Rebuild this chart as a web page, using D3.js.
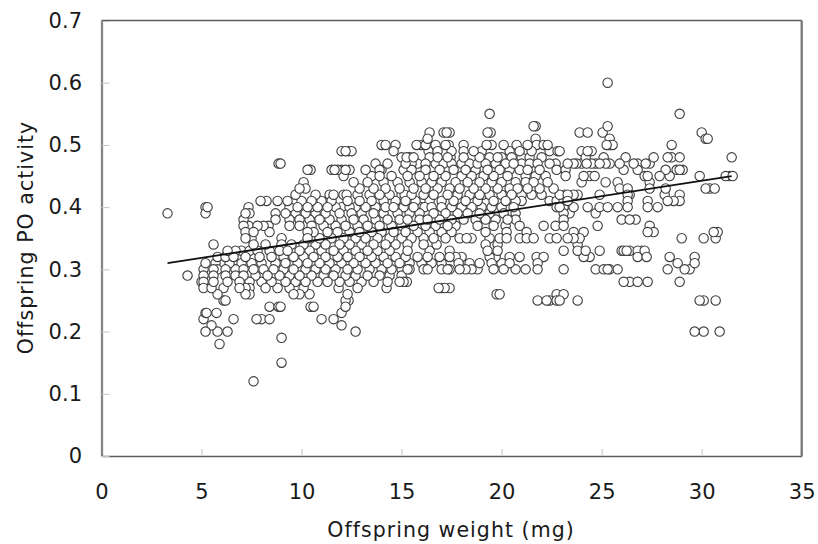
<!DOCTYPE html>
<html>
<head>
<meta charset="utf-8">
<script src="https://d3js.org/d3.v7.min.js"></script>
<style>
  body { margin: 0; background: #fff; }
  svg { display: block; font-family: "DejaVu Sans", sans-serif; }
</style>
</head>
<body>
<div id="chart"></div>
<script>
// Activity readings are quantised, so weights are listed row by row
var activityLevels = [0.60, 0.55, 0.53, 0.52, 0.51, 0.50, 0.49, 0.48, 0.47, 0.46, 0.45, 0.44, 0.43, 0.42, 0.41, 0.40, 0.39, 0.38, 0.37, 0.36, 0.35, 0.34, 0.33, 0.32, 0.31, 0.30, 0.29, 0.28, 0.27, 0.26, 0.25, 0.24, 0.23, 0.22, 0.21, 0.20, 0.19, 0.18, 0.15, 0.12];

var weightsByLevel = [
  [25.3],
  [19.4, 28.9],
  [21.6, 21.7, 25.3],
  [16.4, 17.1, 17.25, 17.4, 19.3, 19.45, 23.9, 24.3, 25.05, 30.0],
  [16.3, 21.7, 25.4, 30.2, 30.3],
  [14.0, 14.2, 14.7, 15.75, 16.0, 16.2, 16.7, 17.2, 17.35, 18.1, 19.25, 19.5, 20.1, 20.75, 21.3, 21.75, 22.1, 22.3, 25.25, 25.35, 25.45, 25.55, 28.5],
  [12.0, 12.2, 12.35, 12.5, 14.6, 16.35, 16.8, 17.5, 18.1, 18.6, 19.0, 20.4, 20.9, 21.5, 22.4, 22.8, 22.9, 24.0, 24.3, 24.5],
  [15.0, 15.25, 15.4, 15.6, 16.4, 16.8, 17.3, 17.45, 18.1, 18.9, 19.4, 19.8, 20.0, 20.5, 21.0, 21.4, 22.0, 24.2, 25.1, 26.2, 27.6, 28.3, 28.5, 28.9, 31.5],
  [8.85, 8.95, 13.7, 14.3, 15.2, 15.5, 15.8, 16.2, 16.7, 17.1, 17.5, 18.0, 18.4, 18.8, 19.2, 19.7, 20.2, 20.6, 21.0, 21.4, 21.8, 22.4, 22.7, 23.3, 23.6, 23.75, 24.0, 24.25, 24.5, 24.7, 24.9, 25.2, 25.4, 25.9, 26.6, 26.8, 27.2, 27.4],
  [10.3, 10.4, 10.45, 11.5, 11.65, 11.8, 12.0, 12.2, 12.4, 13.2, 13.9, 14.0, 15.1, 15.5, 16.2, 16.9, 17.6, 18.2, 18.7, 19.3, 19.9, 20.4, 20.9, 21.3, 21.9, 22.75, 23.2, 26.1, 26.8, 28.2, 28.75, 28.9, 29.05],
  [12.1, 13.5, 13.9, 14.5, 15.3, 15.9, 16.6, 17.2, 18.0, 18.5, 19.1, 19.6, 20.3, 21.2, 21.7, 22.2, 23.2, 24.1, 24.4, 24.65, 27.15, 27.3, 27.9, 28.4, 29.9, 31.2, 31.4, 31.55],
  [10.1, 12.6, 13.3, 14.1, 14.8, 15.4, 16.0, 16.5, 17.0, 17.7, 18.3, 18.9, 19.5, 20.0, 20.7, 21.2, 21.6, 22.3, 24.0, 25.2, 25.8, 27.4],
  [9.9, 10.2, 12.9, 13.6, 14.2, 14.9, 15.6, 16.2, 16.8, 17.4, 17.9, 18.6, 19.2, 19.8, 20.4, 20.8, 21.3, 21.9, 22.6, 25.9, 26.3, 27.4, 28.2, 30.2, 30.4, 30.65],
  [9.7, 10.7, 11.4, 11.6, 12.1, 12.25, 12.8, 13.4, 13.9, 14.4, 15.0, 15.15, 15.5, 16.1, 16.6, 17.3, 17.8, 18.4, 18.9, 19.05, 19.4, 20.0, 20.5, 21.0, 21.5, 22.0, 22.9, 23.15, 23.3, 23.6, 23.8, 24.9, 26.3, 26.4, 28.15, 28.9],
  [7.95, 8.25, 8.8, 9.3, 10.0, 10.5, 11.0, 11.5, 12.3, 12.9, 13.5, 14.1, 14.7, 15.2, 15.7, 16.4, 17.0, 17.6, 18.2, 18.8, 19.6, 20.2, 20.7, 21.0, 22.4, 22.75, 23.1, 23.3, 26.3, 27.3, 28.3, 28.6, 28.9],
  [5.2, 5.3, 7.35, 9.4, 9.8, 10.3, 10.45, 10.8, 11.3, 11.7, 12.0, 12.4, 12.7, 13.2, 13.7, 14.2, 14.6, 15.1, 15.6, 16.0, 16.15, 16.5, 17.0, 17.5, 18.0, 18.5, 19.0, 19.5, 20.0, 20.6, 22.75, 22.9, 23.1, 23.6, 24.3, 24.9, 25.3, 25.8, 26.3, 27.3, 27.8],
  [3.3, 5.2, 7.2, 7.4, 8.7, 9.2, 9.7, 10.2, 10.7, 11.2, 11.9, 12.5, 13.0, 13.6, 14.1, 14.8, 15.4, 15.9, 16.6, 17.2, 17.8, 18.3, 18.9, 19.4, 20.1, 20.7, 23.1, 23.4, 24.7],
  [7.1, 8.7, 9.4, 9.9, 10.4, 10.9, 11.4, 12.0, 12.6, 13.1, 13.7, 14.3, 14.9, 15.3, 15.9, 16.3, 16.9, 17.5, 18.1, 18.7, 19.2, 19.7, 20.3, 20.7, 23.1, 26.0, 26.4, 26.7],
  [7.1, 7.35, 7.8, 8.1, 8.35, 9.4, 9.9, 10.5, 11.1, 11.7, 12.2, 12.8, 13.3, 13.9, 14.5, 15.0, 15.6, 16.2, 16.7, 17.3, 17.7, 18.8, 19.6, 20.2, 20.9, 22.1, 22.7, 23.1, 24.8, 27.4],
  [7.2, 7.6, 8.4, 10.3, 10.6, 11.3, 11.8, 12.4, 12.9, 13.5, 14.0, 14.6, 15.2, 15.8, 16.4, 17.0, 17.5, 19.2, 20.25, 21.25, 23.6, 24.1, 27.3, 27.6, 30.6, 30.8],
  [7.2, 7.5, 9.0, 10.3, 10.45, 10.9, 11.5, 12.1, 12.7, 13.2, 13.8, 14.4, 15.0, 15.5, 16.1, 16.6, 17.2, 17.9, 18.25, 18.5, 19.4, 19.9, 20.25, 20.9, 21.25, 21.6, 22.4, 22.75, 23.3, 23.6, 23.9, 29.0, 30.1, 30.7],
  [5.6, 7.6, 8.2, 9.0, 9.5, 10.1, 10.7, 11.2, 11.9, 12.4, 13.0, 13.6, 14.2, 14.7, 15.3, 16.1, 16.75, 19.2, 19.8, 23.8],
  [6.3, 6.7, 7.0, 7.4, 7.8, 8.4, 8.9, 9.3, 9.9, 10.4, 11.0, 11.6, 12.1, 12.7, 13.3, 13.8, 14.4, 15.3, 16.4, 17.4, 19.3, 19.8, 23.1, 23.8, 24.2, 24.9, 26.0, 26.1, 26.25, 26.4, 26.8, 27.0, 27.15],
  [5.8, 6.2, 6.6, 7.2, 7.9, 8.5, 9.1, 9.6, 10.1, 10.6, 11.2, 11.8, 12.3, 12.9, 13.5, 14.1, 14.7, 15.2, 15.8, 16.3, 16.9, 17.4, 17.7, 18.0, 19.4, 19.7, 20.4, 20.9, 21.75, 22.1, 24.1, 24.4, 26.8, 27.25, 28.4, 29.65],
  [5.2, 5.7, 6.4, 7.0, 7.5, 8.0, 8.7, 9.2, 9.8, 10.3, 10.9, 11.4, 12.0, 12.6, 13.2, 13.7, 14.3, 14.9, 15.4, 16.0, 16.5, 17.0, 17.85, 18.4, 18.9, 19.5, 20.0, 20.4, 21.8, 28.8, 29.65],
  [5.1, 5.6, 5.8, 6.2, 6.7, 7.1, 7.6, 8.1, 8.6, 9.1, 9.6, 10.2, 10.7, 11.2, 11.7, 12.3, 12.8, 13.4, 14.0, 14.5, 15.0, 15.3, 15.4, 16.1, 16.3, 17.0, 17.3, 17.4, 17.9, 18.2, 18.5, 18.8, 19.6, 20.1, 20.7, 21.2, 21.8, 23.1, 24.7, 25.1, 25.3, 25.4, 25.8, 28.3, 29.15, 29.4],
  [4.3, 5.1, 5.6, 6.2, 6.7, 7.1, 7.7, 8.3, 8.9, 9.4, 9.9, 10.5, 11.1, 11.6, 12.2, 12.7, 13.3, 13.9, 14.4, 15.0],
  [5.0, 5.1, 5.6, 6.3, 6.9, 7.4, 8.0, 8.5, 9.2, 9.7, 10.2, 10.8, 11.3, 11.9, 12.4, 13.0, 13.6, 14.3, 14.9, 15.1, 15.26, 26.1, 26.4, 26.8, 27.3, 28.9],
  [5.1, 5.5, 6.1, 6.9, 7.2, 7.4, 8.2, 8.8, 9.4, 10.1, 11.85, 12.8, 14.25, 16.85, 17.0, 17.15, 17.4],
  [5.8, 7.2, 7.4, 9.6, 9.9, 10.4, 12.3, 19.75, 19.9, 22.75, 23.1],
  [6.1, 6.2, 12.2, 12.35, 21.8, 22.25, 22.4, 22.75, 22.9, 23.8, 29.9, 30.1, 30.7],
  [8.4, 8.85, 8.95, 10.45, 10.6, 12.2],
  [5.2, 5.25, 5.75, 12.0],
  [5.1, 6.6, 7.75, 8.0, 8.4, 11.0, 11.6],
  [5.5, 12.0],
  [5.2, 5.8, 6.3, 12.7, 29.65, 30.1, 30.9],
  [9.0],
  [5.9],
  [9.0],
  [7.6]
];

var xTickValues = [0, 5, 10, 15, 20, 25, 30, 35];
var yTickValues = [0, 0.1, 0.2, 0.3, 0.4, 0.5, 0.6, 0.7];

// Fitted line end points
var trendWeights = [3.3, 31.5];
var trendActivity = [0.31, 0.45];

var width = 818, height = 544;
var margin = { top: 20.5, right: 16.3, bottom: 88, left: 101.5 };
var innerWidth = width - margin.left - margin.right;
var innerHeight = height - margin.top - margin.bottom;

var x = d3.scaleLinear().domain([0, 35]).range([0, innerWidth]);
var y = d3.scaleLinear().domain([0, 0.7]).range([innerHeight, 0]);

var svg = d3.select("#chart").append("svg")
    .attr("width", width)
    .attr("height", height);

var g = svg.append("g")
    .attr("transform", `translate(${margin.left}, ${margin.top})`);

var xAxis = g.append("g")
    .attr("transform", `translate(0, ${innerHeight})`)
    .call(d3.axisBottom(x).tickValues(xTickValues).tickSizeInner(-7).tickSizeOuter(0).tickPadding(28.4).tickFormat(d3.format("d")));

var yAxis = g.append("g")
    .call(d3.axisLeft(y).tickValues(yTickValues).tickSizeInner(-8).tickSizeOuter(0).tickPadding(19.5).tickFormat(d => d === 0 ? "0" : d3.format(".1f")(d)));

// Left and right edges are heavier and paler than top and bottom
xAxis.select(".domain").attr("stroke", "#5c5c5c").attr("stroke-width", 1.4);
yAxis.select(".domain").attr("stroke", "#858585").attr("stroke-width", 2.3);
g.append("line")
    .attr("x1", 0).attr("x2", innerWidth)
    .attr("stroke", "#5c5c5c").attr("stroke-width", 1.4);
g.append("line")
    .attr("x1", innerWidth).attr("x2", innerWidth)
    .attr("y1", 0).attr("y2", innerHeight)
    .attr("stroke", "#777").attr("stroke-width", 2.3);

g.selectAll(".tick line").attr("stroke", "#c4c4c4");
g.selectAll(".tick text")
    .attr("fill", "#1a1a1a")
    .style("font-size", "21px")
    .style("font-family", "'DejaVu Sans', sans-serif");

// Flatten the rows and mix them up so the white fills overlap as in a data-order draw
var points = [];
activityLevels.forEach(function (level, i) {
    weightsByLevel[i].forEach(function (w) {
        points.push({ weight: w, activity: level });
    });
});
points.sort((a, b) => ((a.weight * 731) % 17) - ((b.weight * 731) % 17));

g.selectAll("circle.point")
    .data(points)
    .enter().append("circle")
    .attr("class", "point")
    .attr("cx", d => x(d.weight))
    .attr("cy", d => y(d.activity))
    .attr("r", 4.7)
    .attr("fill", "#fff")
    .attr("stroke", "#3c3c3c")
    .attr("stroke-width", 1.1);

var trendLine = d3.line()
    .x((d, i) => x(trendWeights[i]))
    .y(d => y(d));

g.append("path")
    .datum(trendActivity)
    .attr("fill", "none")
    .attr("stroke", "#111")
    .attr("stroke-width", 1.8)
    .attr("d", trendLine);

// Axis labels
svg.append("text")
    .attr("x", 451)
    .attr("y", 536.5)
    .attr("text-anchor", "middle")
    .attr("fill", "#1a1a1a")
    .style("font-size", "20.5px")
    .style("letter-spacing", "1.05px")
    .text("Offspring weight (mg)");

svg.append("text")
    .attr("transform", "rotate(-90)")
    .attr("x", -237.5)
    .attr("y", 33)
    .attr("text-anchor", "middle")
    .attr("fill", "#1a1a1a")
    .style("font-size", "20.5px")
    .style("letter-spacing", "1.05px")
    .text("Offspring PO activity");
</script>
</body>
</html>
